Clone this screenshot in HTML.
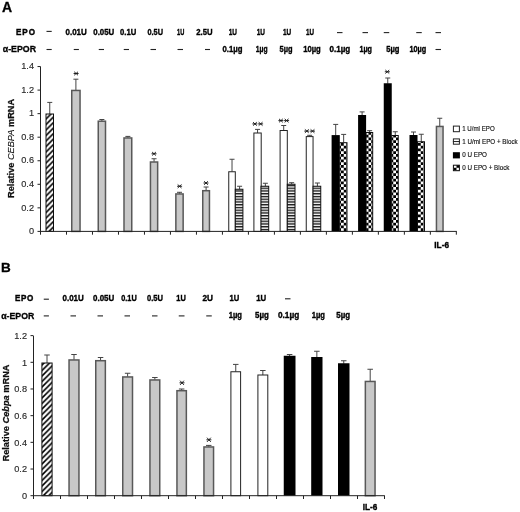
<!DOCTYPE html>
<html><head><meta charset="utf-8"><title>Figure</title>
<style>
html,body{margin:0;padding:0;background:#fff;}
body{width:520px;height:512px;overflow:hidden;font-family:"Liberation Sans", sans-serif;}
svg{display:block;font-family:"Liberation Sans", sans-serif;}
</style></head><body>
<svg width="520" height="512" viewBox="0 0 520 512">
<defs>
<pattern id="hatch" patternUnits="userSpaceOnUse" width="5.5" height="5.5">
<rect width="5.5" height="5.5" fill="#fff"/>
<path d="M-1.375,1.375 L1.375,-1.375 M-1.375,6.875 L6.875,-1.375 M4.125,6.875 L6.875,4.125" stroke="#000" stroke-width="1.6"/>
</pattern>
<pattern id="hstripe" patternUnits="userSpaceOnUse" width="8" height="2.75" y="0.6">
<rect width="8" height="2.75" fill="#fff"/><rect width="8" height="1.35" fill="#111"/>
</pattern>
<pattern id="check" patternUnits="userSpaceOnUse" width="5.5" height="5.5">
<rect width="5.5" height="5.5" fill="#fff"/><rect width="2.75" height="2.75" fill="#000"/><rect x="2.75" y="2.75" width="2.75" height="2.75" fill="#000"/>
</pattern>
<filter id="soft" x="0" y="0" width="520" height="512" filterUnits="userSpaceOnUse"><feGaussianBlur stdDeviation="0.3"/></filter>
</defs>
<rect width="520" height="512" fill="#fff"/>
<g filter="url(#soft)">
<rect width="520" height="512" fill="#fff"/>

<text x="2.0" y="11.8" font-size="14" font-weight="bold" text-anchor="start" fill="#000" stroke="#000" stroke-width="0.3">A</text>
<text transform="translate(16,34.9) scale(0.86,1)" font-size="9.4" font-weight="bold" fill="#000" stroke="#000" stroke-width="0.45" textLength="22.1" lengthAdjust="spacing">EPO</text>
<text x="2.75" y="52" font-size="9" font-weight="bold" text-anchor="start" fill="#000" textLength="33.25" lengthAdjust="spacingAndGlyphs" stroke="#000" stroke-width="0.3">α-EPOR</text>
<line x1="46.5" y1="31.4" x2="51.7" y2="31.4" stroke="#222" stroke-width="1.1"/>
<text x="65.5" y="35.15" font-size="8.9" font-weight="bold" text-anchor="start" fill="#000" textLength="21.25" lengthAdjust="spacingAndGlyphs" stroke="#000" stroke-width="0.35">0.01U</text>
<text x="93.25" y="35.15" font-size="8.9" font-weight="bold" text-anchor="start" fill="#000" textLength="21.0" lengthAdjust="spacingAndGlyphs" stroke="#000" stroke-width="0.35">0.05U</text>
<text x="120" y="35.15" font-size="8.9" font-weight="bold" text-anchor="start" fill="#000" textLength="16.25" lengthAdjust="spacingAndGlyphs" stroke="#000" stroke-width="0.35">0.1U</text>
<text x="147.5" y="35.15" font-size="8.9" font-weight="bold" text-anchor="start" fill="#000" textLength="15.5" lengthAdjust="spacingAndGlyphs" stroke="#000" stroke-width="0.35">0.5U</text>
<text x="177" y="35.15" font-size="8.9" font-weight="bold" text-anchor="start" fill="#000" textLength="7.25" lengthAdjust="spacingAndGlyphs" stroke="#000" stroke-width="0.35">1U</text>
<text x="196.25" y="35.15" font-size="8.9" font-weight="bold" text-anchor="start" fill="#000" textLength="16.25" lengthAdjust="spacingAndGlyphs" stroke="#000" stroke-width="0.35">2.5U</text>
<text x="228.75" y="35.15" font-size="8.9" font-weight="bold" text-anchor="start" fill="#000" textLength="8.25" lengthAdjust="spacingAndGlyphs" stroke="#000" stroke-width="0.35">1U</text>
<text x="256.75" y="35.15" font-size="8.9" font-weight="bold" text-anchor="start" fill="#000" textLength="8.25" lengthAdjust="spacingAndGlyphs" stroke="#000" stroke-width="0.35">1U</text>
<text x="283" y="35.15" font-size="8.9" font-weight="bold" text-anchor="start" fill="#000" textLength="8.25" lengthAdjust="spacingAndGlyphs" stroke="#000" stroke-width="0.35">1U</text>
<text x="306" y="35.15" font-size="8.9" font-weight="bold" text-anchor="start" fill="#000" textLength="8" lengthAdjust="spacingAndGlyphs" stroke="#000" stroke-width="0.35">1U</text>
<line x1="337" y1="32.6" x2="342.5" y2="32.6" stroke="#222" stroke-width="1.1"/>
<line x1="362.5" y1="32.6" x2="368" y2="32.6" stroke="#222" stroke-width="1.1"/>
<line x1="383.75" y1="32.6" x2="389.25" y2="32.6" stroke="#222" stroke-width="1.1"/>
<line x1="416.25" y1="32.6" x2="421.75" y2="32.6" stroke="#222" stroke-width="1.1"/>
<line x1="435.5" y1="32.6" x2="441" y2="32.6" stroke="#222" stroke-width="1.1"/>
<line x1="46.5" y1="49.5" x2="51.7" y2="49.5" stroke="#222" stroke-width="1.1"/>
<line x1="73.75" y1="49.5" x2="78.9" y2="49.5" stroke="#222" stroke-width="1.1"/>
<line x1="98.75" y1="49.5" x2="104" y2="49.5" stroke="#222" stroke-width="1.1"/>
<line x1="123.75" y1="49.5" x2="129" y2="49.5" stroke="#222" stroke-width="1.1"/>
<line x1="150.5" y1="49.5" x2="156" y2="49.5" stroke="#222" stroke-width="1.1"/>
<line x1="177.5" y1="49.5" x2="183" y2="49.5" stroke="#222" stroke-width="1.1"/>
<line x1="205" y1="49.5" x2="210" y2="49.5" stroke="#222" stroke-width="1.1"/>
<text x="222.5" y="52.3" font-size="8.9" font-weight="bold" text-anchor="start" fill="#000" textLength="20.0" lengthAdjust="spacingAndGlyphs" stroke="#000" stroke-width="0.35">0.1µg</text>
<text x="255.75" y="52.3" font-size="8.9" font-weight="bold" text-anchor="start" fill="#000" textLength="11.75" lengthAdjust="spacingAndGlyphs" stroke="#000" stroke-width="0.35">1µg</text>
<text x="279.5" y="52.3" font-size="8.9" font-weight="bold" text-anchor="start" fill="#000" textLength="13.0" lengthAdjust="spacingAndGlyphs" stroke="#000" stroke-width="0.35">5µg</text>
<text x="303.2" y="52.3" font-size="8.9" font-weight="bold" text-anchor="start" fill="#000" textLength="17.6" lengthAdjust="spacingAndGlyphs" stroke="#000" stroke-width="0.35">10µg</text>
<text x="329.5" y="51.599999999999994" font-size="8.4" font-weight="bold" text-anchor="start" fill="#000" textLength="20.7" lengthAdjust="spacingAndGlyphs" stroke="#000" stroke-width="0.35">0.1µg</text>
<text x="359.5" y="51.599999999999994" font-size="8.4" font-weight="bold" text-anchor="start" fill="#000" textLength="12.5" lengthAdjust="spacingAndGlyphs" stroke="#000" stroke-width="0.35">1µg</text>
<text x="386.25" y="51.599999999999994" font-size="8.4" font-weight="bold" text-anchor="start" fill="#000" textLength="13.25" lengthAdjust="spacingAndGlyphs" stroke="#000" stroke-width="0.35">5µg</text>
<text x="409.5" y="51.599999999999994" font-size="8.4" font-weight="bold" text-anchor="start" fill="#000" textLength="16.75" lengthAdjust="spacingAndGlyphs" stroke="#000" stroke-width="0.35">10µg</text>
<line x1="435.5" y1="49.5" x2="441" y2="49.5" stroke="#222" stroke-width="1.1"/>
<g stroke="#444" stroke-width="1"><line x1="49.75" y1="102.4" x2="49.75" y2="114.0"/><line x1="47.25" y1="102.4" x2="52.25" y2="102.4"/></g>
<rect x="46.00" y="114.00" width="7.50" height="117.40" fill="url(#hatch)" stroke="#111" stroke-width="1"/>
<g stroke="#444" stroke-width="1"><line x1="75.9" y1="79.2" x2="75.9" y2="90.25"/><line x1="73.4" y1="79.2" x2="78.4" y2="79.2"/></g>
<rect x="71.75" y="90.45" width="8.30" height="140.95" fill="#c8c8c8" stroke="#585858" stroke-width="1.5"/>
<g stroke="#444" stroke-width="1"><line x1="101.88" y1="119.5" x2="101.88" y2="121.0"/><line x1="99.38" y1="119.5" x2="104.38" y2="119.5"/></g>
<rect x="98.25" y="121.20" width="7.25" height="110.20" fill="#c8c8c8" stroke="#585858" stroke-width="1.5"/>
<g stroke="#444" stroke-width="1"><line x1="127.88" y1="136.4" x2="127.88" y2="137.75"/><line x1="125.38" y1="136.4" x2="130.38" y2="136.4"/></g>
<rect x="124.00" y="137.95" width="7.75" height="93.45" fill="#c8c8c8" stroke="#585858" stroke-width="1.5"/>
<g stroke="#444" stroke-width="1"><line x1="154.05" y1="158.75" x2="154.05" y2="161.8"/><line x1="151.55" y1="158.75" x2="156.55" y2="158.75"/></g>
<rect x="150.45" y="162.00" width="7.20" height="69.40" fill="#c8c8c8" stroke="#585858" stroke-width="1.5"/>
<g stroke="#444" stroke-width="1"><line x1="179.5" y1="192.3" x2="179.5" y2="193.75"/><line x1="177.0" y1="192.3" x2="182.0" y2="192.3"/></g>
<rect x="175.85" y="193.95" width="7.30" height="37.45" fill="#c8c8c8" stroke="#585858" stroke-width="1.5"/>
<g stroke="#444" stroke-width="1"><line x1="206.1" y1="187" x2="206.1" y2="190.5"/><line x1="203.6" y1="187" x2="208.6" y2="187"/></g>
<rect x="202.75" y="190.70" width="6.70" height="40.70" fill="#c8c8c8" stroke="#585858" stroke-width="1.5"/>
<g stroke="#444" stroke-width="1"><line x1="232.03" y1="159.25" x2="232.03" y2="171.75"/><line x1="229.53" y1="159.25" x2="234.53" y2="159.25"/></g>
<rect x="228.75" y="171.75" width="6.55" height="59.65" fill="#fff" stroke="#222" stroke-width="1"/>
<g stroke="#444" stroke-width="1"><line x1="239.6" y1="186.25" x2="239.6" y2="189.25"/><line x1="237.1" y1="186.25" x2="242.1" y2="186.25"/></g>
<rect x="235.30" y="189.25" width="7.60" height="42.15" fill="url(#hstripe)" stroke="#111" stroke-width="1"/>
<g stroke="#444" stroke-width="1"><line x1="257.55" y1="129.4" x2="257.55" y2="133.0"/><line x1="255.05" y1="129.4" x2="260.05" y2="129.4"/></g>
<rect x="253.90" y="133.00" width="7.30" height="98.40" fill="#fff" stroke="#222" stroke-width="1"/>
<g stroke="#444" stroke-width="1"><line x1="265.35" y1="183.25" x2="265.35" y2="186.25"/><line x1="262.85" y1="183.25" x2="267.85" y2="183.25"/></g>
<rect x="261.00" y="186.25" width="7.70" height="45.15" fill="url(#hstripe)" stroke="#111" stroke-width="1"/>
<g stroke="#444" stroke-width="1"><line x1="283.7" y1="125.5" x2="283.7" y2="130.5"/><line x1="281.2" y1="125.5" x2="286.2" y2="125.5"/></g>
<rect x="280.10" y="130.50" width="7.20" height="100.90" fill="#fff" stroke="#222" stroke-width="1"/>
<g stroke="#444" stroke-width="1"><line x1="291.65" y1="182.7" x2="291.65" y2="184.25"/><line x1="289.15" y1="182.7" x2="294.15" y2="182.7"/></g>
<rect x="287.30" y="184.25" width="7.70" height="47.15" fill="url(#hstripe)" stroke="#111" stroke-width="1"/>
<g stroke="#444" stroke-width="1"><line x1="309.65" y1="135.3" x2="309.65" y2="136.6"/><line x1="307.15" y1="135.3" x2="312.15" y2="135.3"/></g>
<rect x="306.25" y="136.60" width="6.80" height="94.80" fill="#fff" stroke="#222" stroke-width="1"/>
<g stroke="#444" stroke-width="1"><line x1="317.4" y1="183" x2="317.4" y2="186.25"/><line x1="314.9" y1="183" x2="319.9" y2="183"/></g>
<rect x="313.05" y="186.25" width="7.70" height="45.15" fill="url(#hstripe)" stroke="#111" stroke-width="1"/>
<g stroke="#444" stroke-width="1"><line x1="335.7" y1="124.4" x2="335.7" y2="135.6"/><line x1="333.2" y1="124.4" x2="338.2" y2="124.4"/></g>
<rect x="331.60" y="135.10" width="8.20" height="96.30" fill="#000"/>
<g stroke="#444" stroke-width="1"><line x1="343.65" y1="134.4" x2="343.65" y2="142.7"/><line x1="341.15" y1="134.4" x2="346.15" y2="134.4"/></g>
<rect x="339.80" y="142.70" width="7.20" height="88.70" fill="url(#check)" stroke="#111" stroke-width="1"/>
<g stroke="#444" stroke-width="1"><line x1="362.1" y1="111.9" x2="362.1" y2="115.5"/><line x1="359.6" y1="111.9" x2="364.6" y2="111.9"/></g>
<rect x="358.10" y="115.00" width="8.00" height="116.40" fill="#000"/>
<g stroke="#444" stroke-width="1"><line x1="369.65" y1="130.7" x2="369.65" y2="132.5"/><line x1="367.15" y1="130.7" x2="372.15" y2="130.7"/></g>
<rect x="366.10" y="132.50" width="6.60" height="98.90" fill="url(#check)" stroke="#111" stroke-width="1"/>
<g stroke="#444" stroke-width="1"><line x1="387.75" y1="78" x2="387.75" y2="83.75"/><line x1="385.25" y1="78" x2="390.25" y2="78"/></g>
<rect x="383.75" y="83.25" width="8.00" height="148.15" fill="#000"/>
<g stroke="#444" stroke-width="1"><line x1="395.25" y1="131.75" x2="395.25" y2="135.5"/><line x1="392.75" y1="131.75" x2="397.75" y2="131.75"/></g>
<rect x="391.75" y="135.50" width="6.50" height="95.90" fill="url(#check)" stroke="#111" stroke-width="1"/>
<g stroke="#444" stroke-width="1"><line x1="413.5" y1="132" x2="413.5" y2="135.5"/><line x1="411.0" y1="132" x2="416.0" y2="132"/></g>
<rect x="409.50" y="135.00" width="8.00" height="96.40" fill="#000"/>
<g stroke="#444" stroke-width="1"><line x1="421.25" y1="134.25" x2="421.25" y2="141.75"/><line x1="418.75" y1="134.25" x2="423.75" y2="134.25"/></g>
<rect x="417.50" y="141.75" width="7.00" height="89.65" fill="url(#check)" stroke="#111" stroke-width="1"/>
<g stroke="#444" stroke-width="1"><line x1="439.75" y1="118.25" x2="439.75" y2="126.25"/><line x1="437.25" y1="118.25" x2="442.25" y2="118.25"/></g>
<rect x="436.45" y="126.45" width="6.60" height="104.95" fill="#c8c8c8" stroke="#585858" stroke-width="1.5"/>
<g stroke="#222" stroke-width="1" fill="none">
<line x1="40.5" y1="66.5" x2="40.5" y2="231.9"/>
<line x1="40.0" y1="231.4" x2="456.8" y2="231.4"/>
<line x1="40.5" y1="231.4" x2="40.5" y2="234.70000000000002"/>
<line x1="66.49" y1="231.4" x2="66.49" y2="234.70000000000002"/>
<line x1="92.48" y1="231.4" x2="92.48" y2="234.70000000000002"/>
<line x1="118.47" y1="231.4" x2="118.47" y2="234.70000000000002"/>
<line x1="144.46" y1="231.4" x2="144.46" y2="234.70000000000002"/>
<line x1="170.45" y1="231.4" x2="170.45" y2="234.70000000000002"/>
<line x1="196.44" y1="231.4" x2="196.44" y2="234.70000000000002"/>
<line x1="222.43" y1="231.4" x2="222.43" y2="234.70000000000002"/>
<line x1="248.42" y1="231.4" x2="248.42" y2="234.70000000000002"/>
<line x1="274.41" y1="231.4" x2="274.41" y2="234.70000000000002"/>
<line x1="300.4" y1="231.4" x2="300.4" y2="234.70000000000002"/>
<line x1="326.39" y1="231.4" x2="326.39" y2="234.70000000000002"/>
<line x1="352.38" y1="231.4" x2="352.38" y2="234.70000000000002"/>
<line x1="378.37" y1="231.4" x2="378.37" y2="234.70000000000002"/>
<line x1="404.36" y1="231.4" x2="404.36" y2="234.70000000000002"/>
<line x1="430.35" y1="231.4" x2="430.35" y2="234.70000000000002"/>
<line x1="456.34" y1="231.4" x2="456.34" y2="234.70000000000002"/>
<line x1="37.5" y1="231.4" x2="40.5" y2="231.4"/>
<line x1="37.5" y1="207.85" x2="40.5" y2="207.85"/>
<line x1="37.5" y1="184.3" x2="40.5" y2="184.3"/>
<line x1="37.5" y1="160.75" x2="40.5" y2="160.75"/>
<line x1="37.5" y1="137.2" x2="40.5" y2="137.2"/>
<line x1="37.5" y1="113.65" x2="40.5" y2="113.65"/>
<line x1="37.5" y1="90.1" x2="40.5" y2="90.1"/>
<line x1="37.5" y1="66.55" x2="40.5" y2="66.55"/>
</g>
<text x="34.0" y="234.1" font-size="9.2" font-weight="normal" text-anchor="end" fill="#2a2a2a" stroke="#2a2a2a" stroke-width="0.15">0</text>
<text x="34.0" y="210.54999999999998" font-size="9.2" font-weight="normal" text-anchor="end" fill="#2a2a2a" stroke="#2a2a2a" stroke-width="0.15">0.2</text>
<text x="34.0" y="187.0" font-size="9.2" font-weight="normal" text-anchor="end" fill="#2a2a2a" stroke="#2a2a2a" stroke-width="0.15">0.4</text>
<text x="34.0" y="163.45" font-size="9.2" font-weight="normal" text-anchor="end" fill="#2a2a2a" stroke="#2a2a2a" stroke-width="0.15">0.6</text>
<text x="34.0" y="139.89999999999998" font-size="9.2" font-weight="normal" text-anchor="end" fill="#2a2a2a" stroke="#2a2a2a" stroke-width="0.15">0.8</text>
<text x="34.0" y="116.35000000000001" font-size="9.2" font-weight="normal" text-anchor="end" fill="#2a2a2a" stroke="#2a2a2a" stroke-width="0.15">1</text>
<text x="34.0" y="92.8" font-size="9.2" font-weight="normal" text-anchor="end" fill="#2a2a2a" stroke="#2a2a2a" stroke-width="0.15">1.2</text>
<text x="34.0" y="69.25" font-size="9.2" font-weight="normal" text-anchor="end" fill="#2a2a2a" stroke="#2a2a2a" stroke-width="0.15">1.4</text>
<g stroke="#1a1a1a" stroke-width="0.95" stroke-linecap="butt"><line x1="73.6" y1="73.5" x2="78.6" y2="73.5"/><line x1="74.19999999999999" y1="71.75" x2="78.0" y2="75.25"/><line x1="78.0" y1="71.75" x2="74.19999999999999" y2="75.25"/></g>
<g stroke="#1a1a1a" stroke-width="0.95" stroke-linecap="butt"><line x1="151.5" y1="153.75" x2="156.5" y2="153.75"/><line x1="152.1" y1="152.0" x2="155.9" y2="155.5"/><line x1="155.9" y1="152.0" x2="152.1" y2="155.5"/></g>
<g stroke="#1a1a1a" stroke-width="0.95" stroke-linecap="butt"><line x1="177.1" y1="186.25" x2="182.1" y2="186.25"/><line x1="177.7" y1="184.5" x2="181.5" y2="188.0"/><line x1="181.5" y1="184.5" x2="177.7" y2="188.0"/></g>
<g stroke="#1a1a1a" stroke-width="0.95" stroke-linecap="butt"><line x1="203.5" y1="183" x2="208.5" y2="183"/><line x1="204.1" y1="181.25" x2="207.9" y2="184.75"/><line x1="207.9" y1="181.25" x2="204.1" y2="184.75"/></g>
<g stroke="#1a1a1a" stroke-width="0.95" stroke-linecap="butt"><line x1="252.4" y1="123.9" x2="257.4" y2="123.9"/><line x1="253.0" y1="122.15" x2="256.8" y2="125.65"/><line x1="256.8" y1="122.15" x2="253.0" y2="125.65"/></g>
<g stroke="#1a1a1a" stroke-width="0.95" stroke-linecap="butt"><line x1="258.1" y1="123.9" x2="263.1" y2="123.9"/><line x1="258.70000000000005" y1="122.15" x2="262.5" y2="125.65"/><line x1="262.5" y1="122.15" x2="258.70000000000005" y2="125.65"/></g>
<g stroke="#1a1a1a" stroke-width="0.95" stroke-linecap="butt"><line x1="278.4" y1="120.6" x2="283.4" y2="120.6"/><line x1="279.0" y1="118.85" x2="282.79999999999995" y2="122.35"/><line x1="282.79999999999995" y1="118.85" x2="279.0" y2="122.35"/></g>
<g stroke="#1a1a1a" stroke-width="0.95" stroke-linecap="butt"><line x1="284.1" y1="120.6" x2="289.1" y2="120.6"/><line x1="284.70000000000005" y1="118.85" x2="288.5" y2="122.35"/><line x1="288.5" y1="118.85" x2="284.70000000000005" y2="122.35"/></g>
<g stroke="#1a1a1a" stroke-width="0.95" stroke-linecap="butt"><line x1="304.3" y1="131.1" x2="309.3" y2="131.1"/><line x1="304.90000000000003" y1="129.35" x2="308.7" y2="132.85"/><line x1="308.7" y1="129.35" x2="304.90000000000003" y2="132.85"/></g>
<g stroke="#1a1a1a" stroke-width="0.95" stroke-linecap="butt"><line x1="310.0" y1="131.1" x2="315.0" y2="131.1"/><line x1="310.6" y1="129.35" x2="314.4" y2="132.85"/><line x1="314.4" y1="129.35" x2="310.6" y2="132.85"/></g>
<g stroke="#1a1a1a" stroke-width="0.95" stroke-linecap="butt"><line x1="384.8" y1="71.75" x2="389.8" y2="71.75"/><line x1="385.40000000000003" y1="70.0" x2="389.2" y2="73.5"/><line x1="389.2" y1="70.0" x2="385.40000000000003" y2="73.5"/></g>
<text transform="translate(14.1,148.4) rotate(-90)" text-anchor="middle" font-size="8.6" font-weight="bold" fill="#111" stroke="#111" stroke-width="0.25" textLength="99" lengthAdjust="spacingAndGlyphs">Relative <tspan font-weight="normal" font-style="italic" stroke-width="0.1">CEBPA</tspan> mRNA</text>
<text x="434.3" y="248" font-size="9" font-weight="bold" text-anchor="start" fill="#000" textLength="14.7" lengthAdjust="spacingAndGlyphs" stroke="#000" stroke-width="0.35">IL-6</text>
<rect x="453.4" y="126.1" width="6.0" height="5.599999999999994" fill="#fff" stroke="#222" stroke-width="1"/>
<rect x="453.4" y="138.9" width="6.0" height="5.299999999999983" fill="#fff" stroke="#222" stroke-width="1"/>
<line x1="452.9" y1="141.55" x2="459.9" y2="141.55" stroke="#222" stroke-width="1"/>
<rect x="452.9" y="152.2" width="7.0" height="6.200000000000017" fill="#000"/>
<rect x="453.4" y="165.2" width="6.0" height="5.5" fill="url(#check)" stroke="#111" stroke-width="1"/>
<text x="462.2" y="131" font-size="7.4" font-weight="normal" text-anchor="start" fill="#111" textLength="32.5" lengthAdjust="spacingAndGlyphs" stroke="#111" stroke-width="0.15">1 U/ml EPO</text>
<text x="462.2" y="144" font-size="7.4" font-weight="normal" text-anchor="start" fill="#111" textLength="55.5" lengthAdjust="spacingAndGlyphs" stroke="#111" stroke-width="0.15">1 U/ml EPO + Block</text>
<text x="462.2" y="156.5" font-size="7.4" font-weight="normal" text-anchor="start" fill="#111" textLength="24.8" lengthAdjust="spacingAndGlyphs" stroke="#111" stroke-width="0.15">0 U EPO</text>
<text x="462.2" y="169.7" font-size="7.4" font-weight="normal" text-anchor="start" fill="#111" textLength="47.3" lengthAdjust="spacingAndGlyphs" stroke="#111" stroke-width="0.15">0 U EPO + Block</text>
<text x="1" y="272.2" font-size="13.5" font-weight="bold" text-anchor="start" fill="#000" stroke="#000" stroke-width="0.3">B</text>
<text transform="translate(15,300.9) scale(0.86,1)" font-size="9.4" font-weight="bold" fill="#000" stroke="#000" stroke-width="0.45" textLength="21.4" lengthAdjust="spacing">EPO</text>
<text x="1.25" y="319.1" font-size="9" font-weight="bold" text-anchor="start" fill="#000" textLength="33.0" lengthAdjust="spacingAndGlyphs" stroke="#000" stroke-width="0.3">α-EPOR</text>
<line x1="43.75" y1="299.2" x2="48.9" y2="299.2" stroke="#222" stroke-width="1.1"/>
<text x="62.5" y="300.8" font-size="8.5" font-weight="bold" text-anchor="start" fill="#000" textLength="21.25" lengthAdjust="spacingAndGlyphs" stroke="#000" stroke-width="0.35">0.01U</text>
<text x="93" y="300.8" font-size="8.5" font-weight="bold" text-anchor="start" fill="#000" textLength="21.25" lengthAdjust="spacingAndGlyphs" stroke="#000" stroke-width="0.35">0.05U</text>
<text x="121.25" y="300.8" font-size="8.5" font-weight="bold" text-anchor="start" fill="#000" textLength="15.5" lengthAdjust="spacingAndGlyphs" stroke="#000" stroke-width="0.35">0.1U</text>
<text x="147" y="300.8" font-size="8.5" font-weight="bold" text-anchor="start" fill="#000" textLength="16" lengthAdjust="spacingAndGlyphs" stroke="#000" stroke-width="0.35">0.5U</text>
<text x="176.25" y="300.8" font-size="8.5" font-weight="bold" text-anchor="start" fill="#000" textLength="9.5" lengthAdjust="spacingAndGlyphs" stroke="#000" stroke-width="0.35">1U</text>
<text x="202.5" y="300.8" font-size="8.5" font-weight="bold" text-anchor="start" fill="#000" textLength="10.5" lengthAdjust="spacingAndGlyphs" stroke="#000" stroke-width="0.35">2U</text>
<text x="229.5" y="300.8" font-size="8.5" font-weight="bold" text-anchor="start" fill="#000" textLength="9.75" lengthAdjust="spacingAndGlyphs" stroke="#000" stroke-width="0.35">1U</text>
<text x="256.25" y="300.8" font-size="8.5" font-weight="bold" text-anchor="start" fill="#000" textLength="10.0" lengthAdjust="spacingAndGlyphs" stroke="#000" stroke-width="0.35">1U</text>
<line x1="285" y1="298.8" x2="290.5" y2="298.8" stroke="#222" stroke-width="1.1"/>
<line x1="43.75" y1="315.9" x2="48.9" y2="315.9" stroke="#222" stroke-width="1.1"/>
<line x1="70.5" y1="315.9" x2="76" y2="315.9" stroke="#222" stroke-width="1.1"/>
<line x1="97.5" y1="315.9" x2="103" y2="315.9" stroke="#222" stroke-width="1.1"/>
<line x1="124.5" y1="315.9" x2="130" y2="315.9" stroke="#222" stroke-width="1.1"/>
<line x1="152" y1="315.9" x2="157.5" y2="315.9" stroke="#222" stroke-width="1.1"/>
<line x1="178.75" y1="315.9" x2="184.5" y2="315.9" stroke="#222" stroke-width="1.1"/>
<line x1="206.25" y1="315.9" x2="211.75" y2="315.9" stroke="#222" stroke-width="1.1"/>
<text x="228.75" y="317.5" font-size="8.2" font-weight="bold" text-anchor="start" fill="#000" textLength="13.25" lengthAdjust="spacingAndGlyphs" stroke="#000" stroke-width="0.35">1µg</text>
<text x="255" y="317.5" font-size="8.2" font-weight="bold" text-anchor="start" fill="#000" textLength="13.75" lengthAdjust="spacingAndGlyphs" stroke="#000" stroke-width="0.35">5µg</text>
<text x="278" y="317.5" font-size="8.2" font-weight="bold" text-anchor="start" fill="#000" textLength="21.25" lengthAdjust="spacingAndGlyphs" stroke="#000" stroke-width="0.35">0.1µg</text>
<text x="311.75" y="317.5" font-size="8.2" font-weight="bold" text-anchor="start" fill="#000" textLength="13.25" lengthAdjust="spacingAndGlyphs" stroke="#000" stroke-width="0.35">1µg</text>
<text x="336.25" y="317.5" font-size="8.2" font-weight="bold" text-anchor="start" fill="#000" textLength="13.75" lengthAdjust="spacingAndGlyphs" stroke="#000" stroke-width="0.35">5µg</text>
<g stroke="#444" stroke-width="1"><line x1="47.0" y1="355" x2="47.0" y2="363.0"/><line x1="44.25" y1="355" x2="49.75" y2="355"/></g>
<rect x="41.90" y="363.00" width="10.20" height="132.70" fill="url(#hatch)" stroke="#111" stroke-width="1"/>
<g stroke="#444" stroke-width="1"><line x1="74.0" y1="354.5" x2="74.0" y2="359.75"/><line x1="71.25" y1="354.5" x2="76.75" y2="354.5"/></g>
<rect x="69.05" y="359.95" width="9.90" height="135.75" fill="#c8c8c8" stroke="#585858" stroke-width="1.5"/>
<g stroke="#444" stroke-width="1"><line x1="100.55" y1="357.5" x2="100.55" y2="360.5"/><line x1="97.8" y1="357.5" x2="103.3" y2="357.5"/></g>
<rect x="95.75" y="360.70" width="9.60" height="135.00" fill="#c8c8c8" stroke="#585858" stroke-width="1.5"/>
<g stroke="#444" stroke-width="1"><line x1="127.62" y1="373.25" x2="127.62" y2="376.75"/><line x1="124.87" y1="373.25" x2="130.37" y2="373.25"/></g>
<rect x="122.75" y="376.95" width="9.75" height="118.75" fill="#c8c8c8" stroke="#585858" stroke-width="1.5"/>
<g stroke="#444" stroke-width="1"><line x1="154.85" y1="377.5" x2="154.85" y2="379.75"/><line x1="152.1" y1="377.5" x2="157.6" y2="377.5"/></g>
<rect x="149.95" y="379.95" width="9.80" height="115.75" fill="#c8c8c8" stroke="#585858" stroke-width="1.5"/>
<g stroke="#444" stroke-width="1"><line x1="181.65" y1="389" x2="181.65" y2="390.5"/><line x1="178.9" y1="389" x2="184.4" y2="389"/></g>
<rect x="176.95" y="390.70" width="9.40" height="105.00" fill="#c8c8c8" stroke="#585858" stroke-width="1.5"/>
<g stroke="#444" stroke-width="1"><line x1="208.75" y1="445.4" x2="208.75" y2="446.75"/><line x1="206.0" y1="445.4" x2="211.5" y2="445.4"/></g>
<rect x="203.95" y="446.95" width="9.60" height="48.75" fill="#c8c8c8" stroke="#585858" stroke-width="1.5"/>
<g stroke="#444" stroke-width="1"><line x1="235.75" y1="364.4" x2="235.75" y2="371.75"/><line x1="233.0" y1="364.4" x2="238.5" y2="364.4"/></g>
<rect x="230.90" y="371.75" width="9.70" height="123.95" fill="#fff" stroke="#222" stroke-width="1"/>
<g stroke="#444" stroke-width="1"><line x1="262.85" y1="370.5" x2="262.85" y2="375.0"/><line x1="260.1" y1="370.5" x2="265.6" y2="370.5"/></g>
<rect x="257.90" y="375.00" width="9.90" height="120.70" fill="#fff" stroke="#222" stroke-width="1"/>
<g stroke="#444" stroke-width="1"><line x1="289.62" y1="354.5" x2="289.62" y2="356.25"/><line x1="286.87" y1="354.5" x2="292.37" y2="354.5"/></g>
<rect x="283.75" y="355.75" width="11.75" height="139.95" fill="#000"/>
<g stroke="#444" stroke-width="1"><line x1="316.85" y1="351.25" x2="316.85" y2="357.5"/><line x1="314.1" y1="351.25" x2="319.6" y2="351.25"/></g>
<rect x="311.20" y="357.00" width="11.30" height="138.70" fill="#000"/>
<g stroke="#444" stroke-width="1"><line x1="343.75" y1="360.75" x2="343.75" y2="363.75"/><line x1="341.0" y1="360.75" x2="346.5" y2="360.75"/></g>
<rect x="338.00" y="363.25" width="11.50" height="132.45" fill="#000"/>
<g stroke="#444" stroke-width="1"><line x1="370.2" y1="369.25" x2="370.2" y2="381.25"/><line x1="367.45" y1="369.25" x2="372.95" y2="369.25"/></g>
<rect x="365.35" y="381.45" width="9.70" height="114.25" fill="#c8c8c8" stroke="#585858" stroke-width="1.5"/>
<g stroke="#222" stroke-width="1" fill="none">
<line x1="33.5" y1="336" x2="33.5" y2="496.2"/>
<line x1="33.0" y1="495.7" x2="384.8" y2="495.7"/>
<line x1="33.5" y1="495.7" x2="33.5" y2="499.0"/>
<line x1="60.5" y1="495.7" x2="60.5" y2="499.0"/>
<line x1="87.5" y1="495.7" x2="87.5" y2="499.0"/>
<line x1="114.5" y1="495.7" x2="114.5" y2="499.0"/>
<line x1="141.5" y1="495.7" x2="141.5" y2="499.0"/>
<line x1="168.5" y1="495.7" x2="168.5" y2="499.0"/>
<line x1="195.5" y1="495.7" x2="195.5" y2="499.0"/>
<line x1="222.5" y1="495.7" x2="222.5" y2="499.0"/>
<line x1="249.5" y1="495.7" x2="249.5" y2="499.0"/>
<line x1="276.5" y1="495.7" x2="276.5" y2="499.0"/>
<line x1="303.5" y1="495.7" x2="303.5" y2="499.0"/>
<line x1="330.5" y1="495.7" x2="330.5" y2="499.0"/>
<line x1="357.5" y1="495.7" x2="357.5" y2="499.0"/>
<line x1="384.5" y1="495.7" x2="384.5" y2="499.0"/>
<line x1="30.5" y1="495.7" x2="33.5" y2="495.7"/>
<line x1="30.5" y1="469.02" x2="33.5" y2="469.02"/>
<line x1="30.5" y1="442.34" x2="33.5" y2="442.34"/>
<line x1="30.5" y1="415.66" x2="33.5" y2="415.66"/>
<line x1="30.5" y1="388.98" x2="33.5" y2="388.98"/>
<line x1="30.5" y1="362.3" x2="33.5" y2="362.3"/>
<line x1="30.5" y1="335.62" x2="33.5" y2="335.62"/>
</g>
<text x="27.0" y="499.0" font-size="9.2" font-weight="normal" text-anchor="end" fill="#2a2a2a" stroke="#2a2a2a" stroke-width="0.15">0</text>
<text x="27.0" y="472.32" font-size="9.2" font-weight="normal" text-anchor="end" fill="#2a2a2a" stroke="#2a2a2a" stroke-width="0.15">0.2</text>
<text x="27.0" y="445.64" font-size="9.2" font-weight="normal" text-anchor="end" fill="#2a2a2a" stroke="#2a2a2a" stroke-width="0.15">0.4</text>
<text x="27.0" y="418.96000000000004" font-size="9.2" font-weight="normal" text-anchor="end" fill="#2a2a2a" stroke="#2a2a2a" stroke-width="0.15">0.6</text>
<text x="27.0" y="392.28000000000003" font-size="9.2" font-weight="normal" text-anchor="end" fill="#2a2a2a" stroke="#2a2a2a" stroke-width="0.15">0.8</text>
<text x="27.0" y="365.6" font-size="9.2" font-weight="normal" text-anchor="end" fill="#2a2a2a" stroke="#2a2a2a" stroke-width="0.15">1</text>
<text x="27.0" y="338.92" font-size="9.2" font-weight="normal" text-anchor="end" fill="#2a2a2a" stroke="#2a2a2a" stroke-width="0.15">1.2</text>
<g stroke="#1a1a1a" stroke-width="0.95" stroke-linecap="butt"><line x1="179.5" y1="382.8" x2="184.5" y2="382.8"/><line x1="180.1" y1="380.7" x2="183.9" y2="384.90000000000003"/><line x1="183.9" y1="380.7" x2="180.1" y2="384.90000000000003"/></g>
<g stroke="#1a1a1a" stroke-width="0.95" stroke-linecap="butt"><line x1="206.4" y1="439.8" x2="211.4" y2="439.8"/><line x1="207.0" y1="437.7" x2="210.8" y2="441.90000000000003"/><line x1="210.8" y1="437.7" x2="207.0" y2="441.90000000000003"/></g>
<text transform="translate(8.8,413) rotate(-90)" text-anchor="middle" font-size="8.3" font-weight="bold" fill="#111" stroke="#111" stroke-width="0.25" textLength="97" lengthAdjust="spacingAndGlyphs">Relative <tspan font-style="italic">Cebpa</tspan> mRNA</text>
<text x="362.8" y="510.4" font-size="9" font-weight="bold" text-anchor="start" fill="#000" textLength="14.6" lengthAdjust="spacingAndGlyphs" stroke="#000" stroke-width="0.35">IL-6</text>
</g></svg></body></html>
